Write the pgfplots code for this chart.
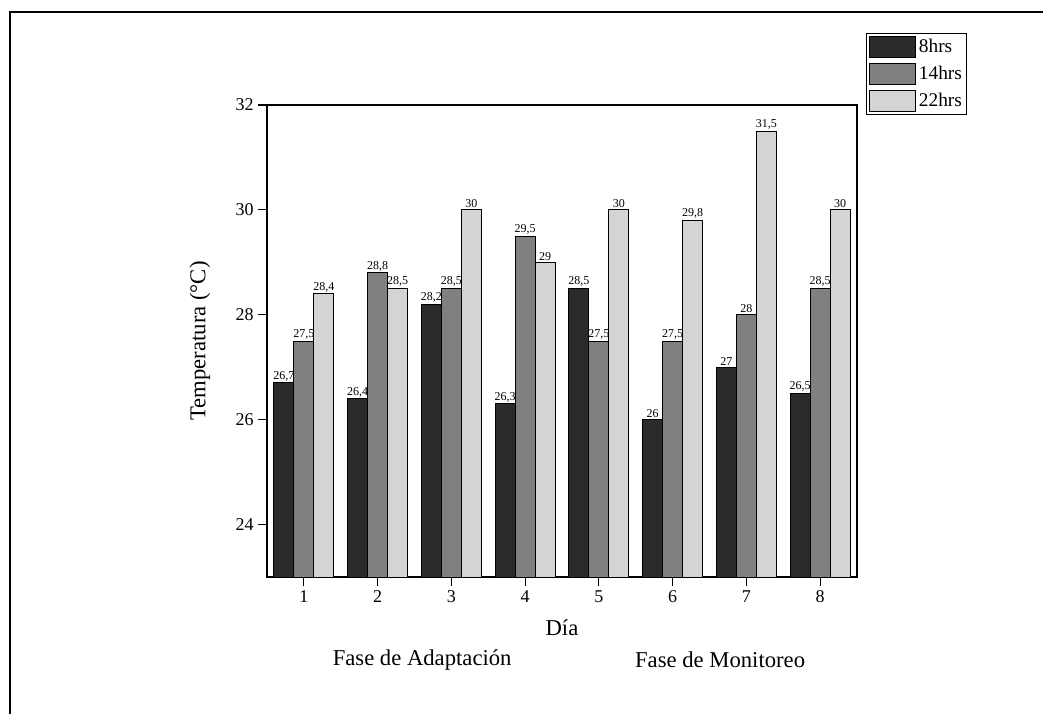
\documentclass[border=0pt]{standalone}
\usepackage{fontspec}
\setmainfont{Liberation Serif}
\usepackage{pgfplots}
\pgfplotsset{compat=1.18}
\definecolor{c1}{HTML}{2B2B2B}
\definecolor{c2}{HTML}{808080}
\definecolor{c3}{HTML}{D4D4D4}
\begin{document}
\begin{tikzpicture}[x=1pt,y=1pt]
\useasboundingbox (-200.25,-102.75) rectangle (582,432.75);
\draw[line width=1.5pt] (-192.75,-102.75) -- (-192.75,423.75) -- (582,423.75);
\begin{axis}[
  at={(0pt,0pt)}, anchor=south west,
  scale only axis, width=442.5pt, height=354pt,
  clip mode=individual,
  ybar=0pt, bar width=15pt,
  xmin=0.5, xmax=8.5, ymin=23, ymax=32,
  xtick={1,...,8}, ytick={24,26,...,32},
  tick align=outside, tick pos=left, major tick length=6.5pt,
  axis line style={line width=1.1pt},
  major tick style={line width=0.9pt, black},
  /pgf/number format/assume math mode=true,
  /pgf/number format/use comma,
  ticklabel style={font=\fontsize{13.5}{16}\selectfont},
  label style={font=\fontsize{17}{20}\selectfont},
  xlabel={Día}, ylabel={Temperatura (°C)},
  xlabel style={at={(axis description cs:0.5,-0.108)},anchor=center},
  ylabel style={at={(axis description cs:-0.1136,0.5)},anchor=center},
  nodes near coords,
  every node near coord/.append style={font=\fontsize{9}{10}\selectfont, inner sep=1pt, black},
  legend style={at={(axis description cs:1.0153,1.1525)}, anchor=north west, draw=black, line width=0.8pt, inner sep=1.5pt, row sep=3.5pt, font=\fontsize{14.5}{16}\selectfont, cells={anchor=west}},
  legend cell align=left,
  legend image code/.code={\draw[#1, line width=0.8pt] (0pt,-8pt) rectangle (35pt,8pt);},
]
\addplot[fill=c1, draw=black, line width=0.7pt] coordinates {(1,26.7) (2,26.4) (3,28.2) (4,26.3) (5,28.5) (6,26) (7,27) (8,26.5)};
\addplot[fill=c2, draw=black, line width=0.7pt] coordinates {(1,27.5) (2,28.8) (3,28.5) (4,29.5) (5,27.5) (6,27.5) (7,28) (8,28.5)};
\addplot[fill=c3, draw=black, line width=0.7pt] coordinates {(1,28.4) (2,28.5) (3,30) (4,29) (5,30) (6,29.8) (7,31.5) (8,30)};
\legend{8hrs,14hrs,22hrs}
\node[font=\fontsize{17}{20}\selectfont] at (axis description cs:0.263,-0.176) {Fase de Adaptación};
\node[font=\fontsize{17}{20}\selectfont] at (axis description cs:0.768,-0.176) {Fase de Monitoreo};
\end{axis}
\end{tikzpicture}
\end{document}
